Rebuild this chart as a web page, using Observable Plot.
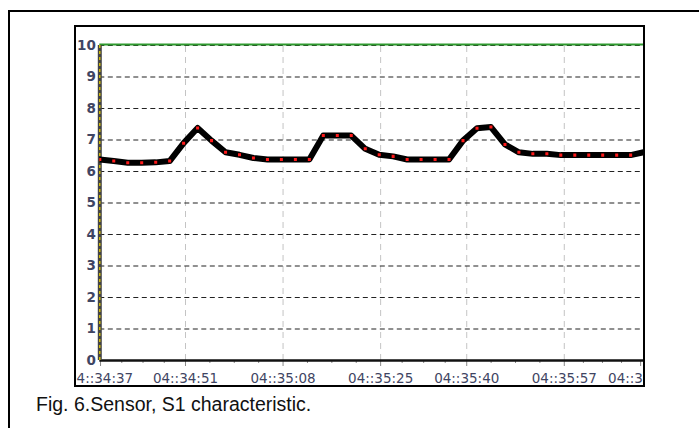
<!DOCTYPE html>
<html>
<head>
<meta charset="utf-8">
<script src="https://cdn.jsdelivr.net/npm/d3@7"></script>
<script src="https://cdn.jsdelivr.net/npm/@observablehq/plot@0.6"></script>
<style>
  html, body { margin: 0; padding: 0; background: #fff; width: 699px; height: 428px; overflow: hidden; }
  #outer { position: absolute; left: 8px; top: 10px; width: 800px; height: 500px;
           border-top: 2px solid #000; border-left: 2px solid #000; }
  #frame { position: absolute; left: 74px; top: 25px; width: 567px; height: 358px;
           border: 2px solid #000; background: #fff; overflow: hidden; }
  #frame svg { display: block; }
  #caption { position: absolute; left: 36px; top: 395px; font-family: Arial, "Liberation Sans", sans-serif;
             font-size: 19.5px; line-height: 1; color: #111; white-space: nowrap; }
</style>
</head>
<body>
<div id="outer"></div>
<div id="frame"></div>
<div id="caption">Fig. 6.Sensor, S1 characteristic.</div>
<script>
// Sample times: seconds after 04:34:00
const sampleTimes = [36.07, 38.50, 40.94, 43.37, 45.81, 48.24, 50.67, 53.11, 55.54, 57.98,
  60.41, 62.84, 65.28, 67.71, 70.15, 72.58, 75.01, 77.45, 79.88, 82.32,
  84.75, 87.18, 89.62, 92.05, 94.49, 96.92, 99.35, 101.79, 104.22, 106.66,
  109.09, 111.52, 113.96, 116.39, 118.83, 121.26, 123.69, 126.13, 128.56, 131.00];
// Sensor S1 readings
const s1Values = [6.38, 6.33, 6.28, 6.28, 6.29, 6.33, 6.90, 7.38, 6.98, 6.61,
  6.53, 6.43, 6.38, 6.38, 6.38, 6.38, 7.14, 7.14, 7.14, 6.72,
  6.53, 6.48, 6.38, 6.38, 6.38, 6.38, 6.98, 7.37, 7.41, 6.86,
  6.61, 6.56, 6.56, 6.52, 6.52, 6.52, 6.52, 6.52, 6.52, 6.62];
// X tick positions (seconds after 04:34:00, as placed on the chart) and labels
const xTickValues = [36.2, 51, 68, 85, 100, 117, 130.3];
const xTickLabels = ["04::34:37", "04::34:51", "04::35:08", "04::35:25", "04::35:40", "04::35:57", "04::36:10"];
// Y ticks
const yTickValues = [0, 1, 2, 3, 4, 5, 6, 7, 8, 9, 10];
const gridValues = [1, 2, 3, 4, 5, 6, 7, 8, 9, 10];
const upperLimit = [10];

const data = sampleTimes.map((t, i) => ({t, v: s1Values[i]}));
const xDomain = [36.07, 130.8];

// minor ticks: quarters between major ticks (decoration)
const minorTicks = [];
for (let i = 0; i < xTickValues.length - 1; i++) {
  const a = xTickValues[i], b = xTickValues[i + 1];
  for (let k = 1; k < 4; k++) minorTicks.push(a + (b - a) * k / 4);
}
const labelColor = "#3f4563";
const axisFont = "'DejaVu Sans', Verdana, sans-serif";

const chart = Plot.plot({
  width: 567,
  height: 358,
  marginLeft: 23.3,
  marginRight: 0,
  marginTop: 18,
  marginBottom: 25,
  style: {fontFamily: axisFont, background: "white", overflow: "hidden"},
  x: {domain: xDomain, axis: null},
  y: {domain: [0, 10], axis: null},
  marks: [
    Plot.ruleX(xTickValues.slice(1, -1), {y1: 0, y2: 10, stroke: "#c4c4c4", strokeWidth: 1, strokeDasharray: "6,5"}),
    Plot.ruleY(gridValues, {stroke: "#222", strokeWidth: 1.1, strokeDasharray: "5,3.5"}),
    Plot.ruleY(upperLimit, {stroke: "#2e9a2e", strokeWidth: 1.8, dy: -1}),
    Plot.axisX({ticks: minorTicks, tickSize: 3, tickFormat: () => "", stroke: "#888", label: null}),
    Plot.axisX({ticks: xTickValues, tickSize: 6, tickPadding: 6.5, stroke: "#888", label: null,
      tickFormat: (d) => xTickLabels[xTickValues.indexOf(d)], fill: labelColor, fontSize: 13.5}),
    Plot.axisY({ticks: yTickValues, tickSize: 0, tickPadding: 4, fill: labelColor, fontSize: 13.5,
      fontWeight: "bold", label: null}),
    Plot.ruleY([0], {stroke: "#111", strokeWidth: 2.5}),
    Plot.ruleX([xDomain[0]], {y1: 0, y2: 10, stroke: "#444", strokeWidth: 4}),
    Plot.ruleX([xDomain[0]], {y1: 0, y2: 10, stroke: "#f0d800", strokeWidth: 1.2, strokeDasharray: "3,3"}),
    Plot.line(data, {x: "t", y: "v", stroke: "#000", strokeWidth: 6, strokeLinejoin: "round", strokeLinecap: "round", clip: true}),
    Plot.dot(data, {x: "t", y: "v", symbol: "square", r: 1.7, fill: "#ff1a1a", stroke: "none", clip: true})
  ]
});
document.getElementById("frame").appendChild(chart);
</script>
</body>
</html>
